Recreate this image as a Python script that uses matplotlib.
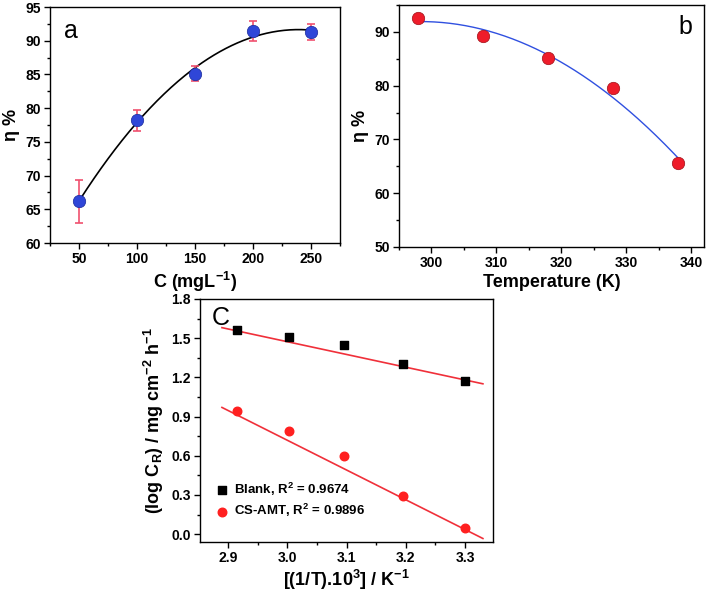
import numpy as np
import matplotlib
matplotlib.use('Agg')
import matplotlib.pyplot as plt
from matplotlib.ticker import MultipleLocator, AutoMinorLocator

plt.rcParams.update({
    'font.family': ['Liberation Sans', 'DejaVu Sans'],
    'font.weight': 'bold',
    'axes.labelweight': 'bold',
    'mathtext.fontset': 'custom',
    'mathtext.rm': 'Liberation Sans:bold',
    'mathtext.it': 'Liberation Sans:bold',
    'mathtext.bf': 'Liberation Sans:bold',
    'xtick.labelsize': 10,
    'ytick.labelsize': 10,
    'axes.linewidth': 1.0,
})

# panel a: efficiency vs concentration
conc = [50, 100, 150, 200, 250]
eta_conc = [66.2, 78.2, 85.1, 91.4, 91.3]
eta_err = [3.2, 1.6, 1.1, 1.5, 1.2]

# panel b: efficiency vs temperature
temp = [298, 308, 318, 328, 338]
eta_temp = [92.6, 89.2, 85.2, 79.6, 65.7]

# panel c: Arrhenius plot
inv_t = [2.915, 3.003, 3.096, 3.195, 3.300]
blank = [1.565, 1.510, 1.445, 1.305, 1.175]
cs_amt = [0.945, 0.790, 0.595, 0.295, 0.045]
# linear fits as drawn in the figure (slope, intercept)
blank_fit = [-0.977, 4.404]
cs_amt_fit = [-2.28, 7.559]
fit_range = [2.89, 3.33]

fig = plt.figure(figsize=(7.07, 5.92), dpi=100)
ax_a = fig.add_axes([0.0707, 0.5895, 0.410, 0.3986])
ax_b = fig.add_axes([0.5644, 0.5828, 0.4314, 0.4088])
ax_c = fig.add_axes([0.2829, 0.0845, 0.4144, 0.4105])


def style(ax):
    ax.tick_params(which='both', direction='out', top=False, right=False)
    ax.tick_params(which='major', length=4, width=1, pad=2.5)
    ax.tick_params(which='minor', length=2.5, width=1)
    ax.xaxis.set_minor_locator(AutoMinorLocator(2))
    ax.yaxis.set_minor_locator(AutoMinorLocator(2))


# --- a
p = np.polyfit(conc, eta_conc, 2)
xs = np.linspace(conc[0], conc[-1], 200)
ax_a.plot(xs, np.polyval(p, xs), color='black', lw=1.2)
ax_a.errorbar(conc, eta_conc, yerr=eta_err, fmt='none', ecolor='#f0506e',
              elinewidth=1.2, capsize=3, capthick=1.2, zorder=3)
ax_a.scatter(conc, eta_conc, s=80, color='#2f46d8', edgecolor='#1a2a9a',
             linewidth=0.5, zorder=4)
ax_a.set_xlim(25, 275)
ax_a.set_ylim(60, 95)
ax_a.xaxis.set_major_locator(MultipleLocator(50))
ax_a.yaxis.set_major_locator(MultipleLocator(5))
style(ax_a)
ax_a.set_xlabel('C (mgL$^{-1}$)', fontsize=13, labelpad=3)
ax_a.set_ylabel('η %', fontsize=13)
ax_a.text(0.05, 0.95, 'a', transform=ax_a.transAxes, fontsize=18,
          fontweight='normal', va='top', ha='left')

# --- b
p = np.polyfit(temp, eta_temp, 2)
xs = np.linspace(temp[0], temp[-1], 200)
ax_b.plot(xs, np.polyval(p, xs), color='#3050e0', lw=1.0)
ax_b.scatter(temp, eta_temp, s=80, color='#ee1c2a', edgecolor='#a01018',
             linewidth=0.5, zorder=4)
ax_b.set_xlim(295, 342)
ax_b.set_ylim(50, 95)
ax_b.xaxis.set_major_locator(MultipleLocator(10))
ax_b.yaxis.set_major_locator(MultipleLocator(10))
style(ax_b)
ax_b.set_xlabel('Temperature (K)', fontsize=13, labelpad=3)
ax_b.set_ylabel('η %', fontsize=13)
ax_b.text(0.96, 0.96, 'b', transform=ax_b.transAxes, fontsize=18,
          fontweight='normal', va='top', ha='right')

# --- c
xs = np.linspace(fit_range[0], fit_range[1], 50)
ax_c.plot(xs, np.polyval(blank_fit, xs), color='#f0303a', lw=1.2)
ax_c.plot(xs, np.polyval(cs_amt_fit, xs), color='#f0303a', lw=1.2)
ax_c.scatter(inv_t, blank, s=30, marker='s', color='black', zorder=4,
             label='Blank, R$^2$ = 0.9674')
ax_c.scatter(inv_t, cs_amt, s=38, marker='o', color='#ff2020', zorder=4,
             label='CS-AMT, R$^2$ = 0.9896')
ax_c.set_xlim(2.853, 3.347)
ax_c.set_ylim(-0.06, 1.8)
ax_c.xaxis.set_major_locator(MultipleLocator(0.1))
ax_c.yaxis.set_major_locator(MultipleLocator(0.3))
ax_c.xaxis.set_major_formatter(plt.FormatStrFormatter('%.1f'))
ax_c.yaxis.set_major_formatter(plt.FormatStrFormatter('%.1f'))
style(ax_c)
ax_c.set_xlabel('[(1/T).10$^3$] / K$^{-1}$', fontsize=13, labelpad=2)
ax_c.set_ylabel('(log C$_R$) / mg cm$^{-2}$ h$^{-1}$', fontsize=13)
ax_c.text(0.04, 0.97, 'C', transform=ax_c.transAxes, fontsize=18,
          fontweight='normal', va='top', ha='left')
ax_c.legend(loc='lower left', bbox_to_anchor=(0.02, 0.06), frameon=False,
            fontsize=9.5, handletextpad=0.3, borderaxespad=0.2,
            labelspacing=0.35, handlelength=1.2)

fig.savefig('out.png', dpi=100)
